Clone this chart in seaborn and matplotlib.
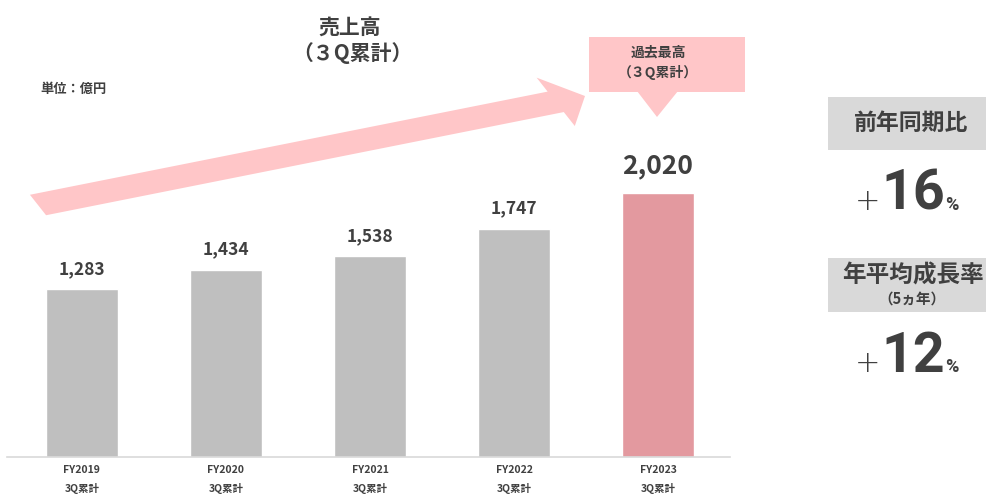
import matplotlib
matplotlib.use("Agg")
import matplotlib.pyplot as plt
import seaborn as sns
import pandas as pd
from matplotlib.patches import Rectangle, Polygon, FancyArrow

# ---- data ----
fiscal_years = ["FY2019", "FY2020", "FY2021", "FY2022", "FY2023"]
period_label = "3Q累計"
sales = [1283, 1434, 1538, 1747, 2020]
highlight = [False, False, False, False, True]
yoy_growth = 16
cagr_5y = 12

sns.set_theme(style="white")
plt.rcParams["font.family"] = ["Noto Sans CJK JP", "DejaVu Sans"]

W, H = 987, 496
DARK = "#404040"
GRAY_BAR = "#BFBFBF"
PINK_BAR = "#E3999F"
PINK_SOFT = "#FFC6C8"
GRAY_BOX = "#D9D9D9"

fig = plt.figure(figsize=(W / 100, H / 100), dpi=100)


def fx(px):
    return px / W


def fy(py):
    return 1 - py / H


# bar chart area
ax = fig.add_axes([fx(7), fy(457), fx(730) - fx(7), fy(100) - fy(457)])
df = pd.DataFrame({"year": fiscal_years, "sales": sales,
                   "hl": ["hl" if h else "base" for h in highlight]})
sns.barplot(data=df, x="year", y="sales", hue="hl",
            palette={"base": GRAY_BAR, "hl": PINK_BAR},
            width=0.5, dodge=False, legend=False, ax=ax, saturation=1)
ax.set_xlim(-0.52, 4.5)
ax.set_ylim(0, 357 / 0.1307)
for s in ["top", "right", "left"]:
    ax.spines[s].set_visible(False)
ax.spines["bottom"].set_color(GRAY_BOX)
ax.spines["bottom"].set_linewidth(1.2)
ax.set_yticks([])
ax.set_xlabel("")
ax.set_ylabel("")
ax.set_xticks(range(len(fiscal_years)))
ax.set_xticklabels([f"{y}\n{period_label}" for y in fiscal_years],
                   fontsize=7.5, color=DARK, fontweight="bold", linespacing=1.9)
ax.tick_params(axis="x", length=0, pad=6)

# value labels above bars
for i, (v, h) in enumerate(zip(sales, highlight)):
    ax.annotate(f"{v:,}", (i, v), xytext=(0, 10 if h else 8),
                textcoords="offset points", ha="center", va="bottom",
                fontsize=19 if h else 12.5, fontweight="bold", color=DARK)

# title and unit
fig.text(fx(350), fy(28), "売上高", ha="center", va="center",
         fontsize=15, fontweight="bold", color=DARK)
fig.text(fx(352), fy(53), "（３Q累計）", ha="center", va="center",
         fontsize=15, fontweight="bold", color=DARK)
fig.text(fx(40), fy(89), "単位：億円", ha="left", va="center",
         fontsize=9.5, fontweight="bold", color=DARK)

# rising arrow
arrow = FancyArrow(fx(38), fy(205), fx(585) - fx(38), fy(96) - fy(205),
                   width=22 / H, head_width=52 / H, head_length=30 / W * 1.05,
                   length_includes_head=True, transform=fig.transFigure,
                   color=PINK_SOFT, lw=0)
fig.patches.append(arrow)

# record-high callout
fig.patches.append(Rectangle((fx(589), fy(92)), fx(745) - fx(589), fy(37) - fy(92),
                             transform=fig.transFigure, color=PINK_SOFT, lw=0))
fig.patches.append(Polygon([(fx(637), fy(91)), (fx(678), fy(91)), (fx(657), fy(117))],
                           closed=True, transform=fig.transFigure, color=PINK_SOFT, lw=0))
fig.text(fx(658), fy(53), "過去最高", ha="center", va="center",
         fontsize=10, fontweight="bold", color=DARK)
fig.text(fx(658), fy(73), "（３Q累計）", ha="center", va="center",
         fontsize=10, fontweight="bold", color=DARK)

# right-side KPI panels
fig.patches.append(Rectangle((fx(828), fy(150)), fx(987) - fx(828), fy(97) - fy(150),
                             transform=fig.transFigure, color=GRAY_BOX, lw=0))
fig.text(fx(911), fy(123), "前年同期比", ha="center", va="center",
         fontsize=16.5, fontweight="bold", color=DARK)

fig.patches.append(Rectangle((fx(828), fy(312)), fx(987) - fx(828), fy(258) - fy(312),
                             transform=fig.transFigure, color=GRAY_BOX, lw=0))
fig.text(fx(913), fy(276), "年平均成長率", ha="center", va="center",
         fontsize=17, fontweight="bold", color=DARK)
fig.text(fx(912), fy(299), "（5ヵ年）", ha="center", va="center",
         fontsize=10.5, fontweight="bold", color=DARK)


def kpi(value, base_y):
    fig.text(fx(880), fy(base_y), "+", ha="right", va="baseline",
             fontsize=22, color=DARK, family=["DejaVu Sans"], fontweight="light")
    fig.text(fx(913), fy(base_y), f"{value}", ha="center", va="baseline",
             fontsize=40, fontweight="bold", color=DARK, family=["Roboto", "DejaVu Sans"])
    fig.text(fx(945), fy(base_y), "%", ha="left", va="baseline",
             fontsize=13, fontweight="bold", color=DARK, family=["Roboto", "DejaVu Sans"])


kpi(yoy_growth, 210)
kpi(cagr_5y, 372)

fig.savefig("out.png", dpi=100, facecolor="white")
